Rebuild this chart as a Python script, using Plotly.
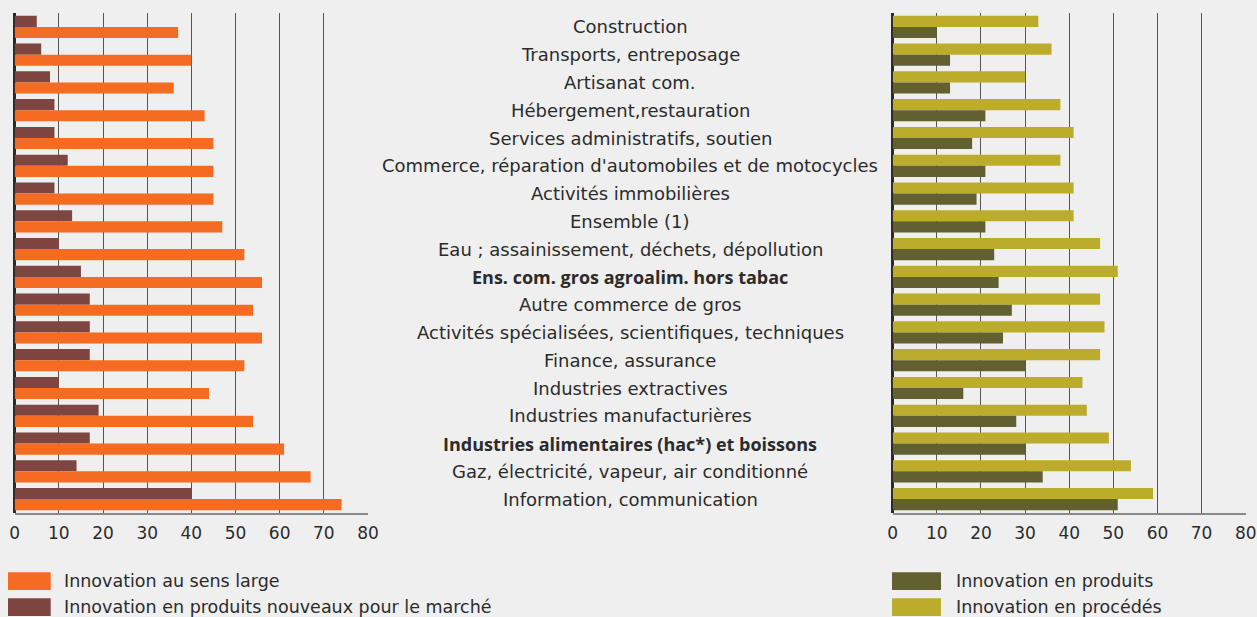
import plotly.graph_objects as go

categories = [
    "Construction",
    "Transports, entreposage",
    "Artisanat com.",
    "Hébergement,restauration",
    "Services administratifs, soutien",
    "Commerce, réparation d'automobiles et de motocycles",
    "Activités immobilières",
    "Ensemble (1)",
    "Eau ; assainissement, déchets, dépollution",
    "Ens. com. gros agroalim. hors tabac",
    "Autre commerce de gros",
    "Activités spécialisées, scientifiques, techniques",
    "Finance, assurance",
    "Industries extractives",
    "Industries manufacturières",
    "Industries alimentaires (hac*) et boissons",
    "Gaz, électricité, vapeur, air conditionné",
    "Information, communication",
]
bold_categories = ["Ens. com. gros agroalim. hors tabac",
                   "Industries alimentaires (hac*) et boissons"]

innov_large = [37, 40, 36, 43, 45, 45, 45, 47, 52, 56, 54, 56, 52, 44, 54, 61, 67, 74]
innov_marche = [5, 6, 8, 9, 9, 12, 9, 13, 10, 15, 17, 17, 17, 10, 19, 17, 14, 40]
innov_produits = [10, 13, 13, 21, 18, 21, 19, 21, 23, 24, 27, 25, 30, 16, 28, 30, 34, 51]
innov_procedes = [33, 36, 30, 38, 41, 38, 41, 41, 47, 51, 47, 48, 47, 43, 44, 49, 54, 59]

tick_vals = [0, 10, 20, 30, 40, 50, 60, 70, 80]

name_large = "Innovation au sens large"
name_marche = "Innovation en produits nouveaux pour le marché"
name_produits = "Innovation en produits"
name_procedes = "Innovation en procédés"

C_ORANGE = "#f46b21"
C_MAROON = "#7e4541"
C_YELLOW = "#bcac2b"
C_OLIVE = "#626030"
BG = "#efefef"
TXT = "#2b2b2b"
FONT = "DejaVu Sans"
FONT_BOLD = "Open Sans"

W, H = 1257, 617
ML, MR, MT, MB = 10, 8, 13, 104
PW = W - ML - MR
PH = H - MT - MB


def px_x(p):
    return (p - ML) / PW


def px_y(p):
    return (H - MB - p) / PH


fig = go.Figure()
fig.add_trace(go.Bar(y=categories, x=innov_marche, orientation="h", name=name_marche,
                     marker=dict(color=C_MAROON, line_width=0), xaxis="x", yaxis="y"))
fig.add_trace(go.Bar(y=categories, x=innov_large, orientation="h", name=name_large,
                     marker=dict(color=C_ORANGE, line_width=0), xaxis="x", yaxis="y"))
fig.add_trace(go.Bar(y=categories, x=innov_procedes, orientation="h", name=name_procedes,
                     marker=dict(color=C_YELLOW, line_width=0), xaxis="x2", yaxis="y2"))
fig.add_trace(go.Bar(y=categories, x=innov_produits, orientation="h", name=name_produits,
                     marker=dict(color=C_OLIVE, line_width=0), xaxis="x2", yaxis="y2"))

xcommon = dict(range=[0, 80], tickvals=tick_vals, showgrid=True, gridcolor="#555555",
               gridwidth=1, zeroline=True, zerolinecolor="#2a2a2a", zerolinewidth=3,
               showline=True, linecolor="#8a8a8a", linewidth=2, mirror=False,
               ticks="", ticklabelstandoff=4, automargin=False,
               tickfont=dict(family=FONT, size=17, color=TXT), fixedrange=True)
ycommon = dict(type="category", autorange="reversed", showticklabels=False,
               showgrid=False, zeroline=False, showline=False, ticks="",
               automargin=False, fixedrange=True)

fig.update_layout(
    width=W, height=H,
    paper_bgcolor=BG, plot_bgcolor=BG,
    margin=dict(l=ML, r=MR, t=MT, b=MB, autoexpand=False),
    barmode="group", bargap=0.2, bargroupgap=0,
    showlegend=False,
    xaxis=dict(domain=[px_x(14.7), px_x(368)], anchor="y", **xcommon),
    yaxis=dict(anchor="x", **ycommon),
    xaxis2=dict(domain=[px_x(892.7), px_x(1245.7)], anchor="y2", **xcommon),
    yaxis2=dict(anchor="x2", **ycommon),
    font=dict(family=FONT, color=TXT),
)

for c in categories:
    is_bold = c in bold_categories
    fig.add_annotation(x=px_x(630), xref="paper", y=c, yref="y", text=c,
                       showarrow=False, xanchor="center", yanchor="middle",
                       font=dict(family=FONT_BOLD if is_bold else FONT, size=18,
                                 weight="bold" if is_bold else "normal", color=TXT))

# manual legends (two blocks, as in the reference)
legend_items = [
    (8, 50.7, 61.7, 0, C_ORANGE, name_large),
    (8, 50.7, 61.7, 1, C_MAROON, name_marche),
    (892, 941, 954, 0, C_OLIVE, name_produits),
    (892, 941, 954, 1, C_YELLOW, name_procedes),
]
for x0, x1, xt, row, col, name in legend_items:
    ytop = 572.3 + row * 26
    ybot = ytop + 17.7
    fig.add_shape(type="rect", xref="paper", yref="paper", x0=px_x(x0), x1=px_x(x1),
                  y0=px_y(ybot), y1=px_y(ytop), fillcolor=col, line_width=0)
    fig.add_annotation(x=px_x(xt), xref="paper", y=px_y((ytop + ybot) / 2),
                       yref="paper", text=name, showarrow=False,
                       xanchor="left", yanchor="middle",
                       font=dict(family=FONT, size=17.5, color=TXT))

fig.write_html("out.html", config={"displayModeBar": False},
               post_script="document.body.style.margin='0';document.body.style.overflow='hidden';")
